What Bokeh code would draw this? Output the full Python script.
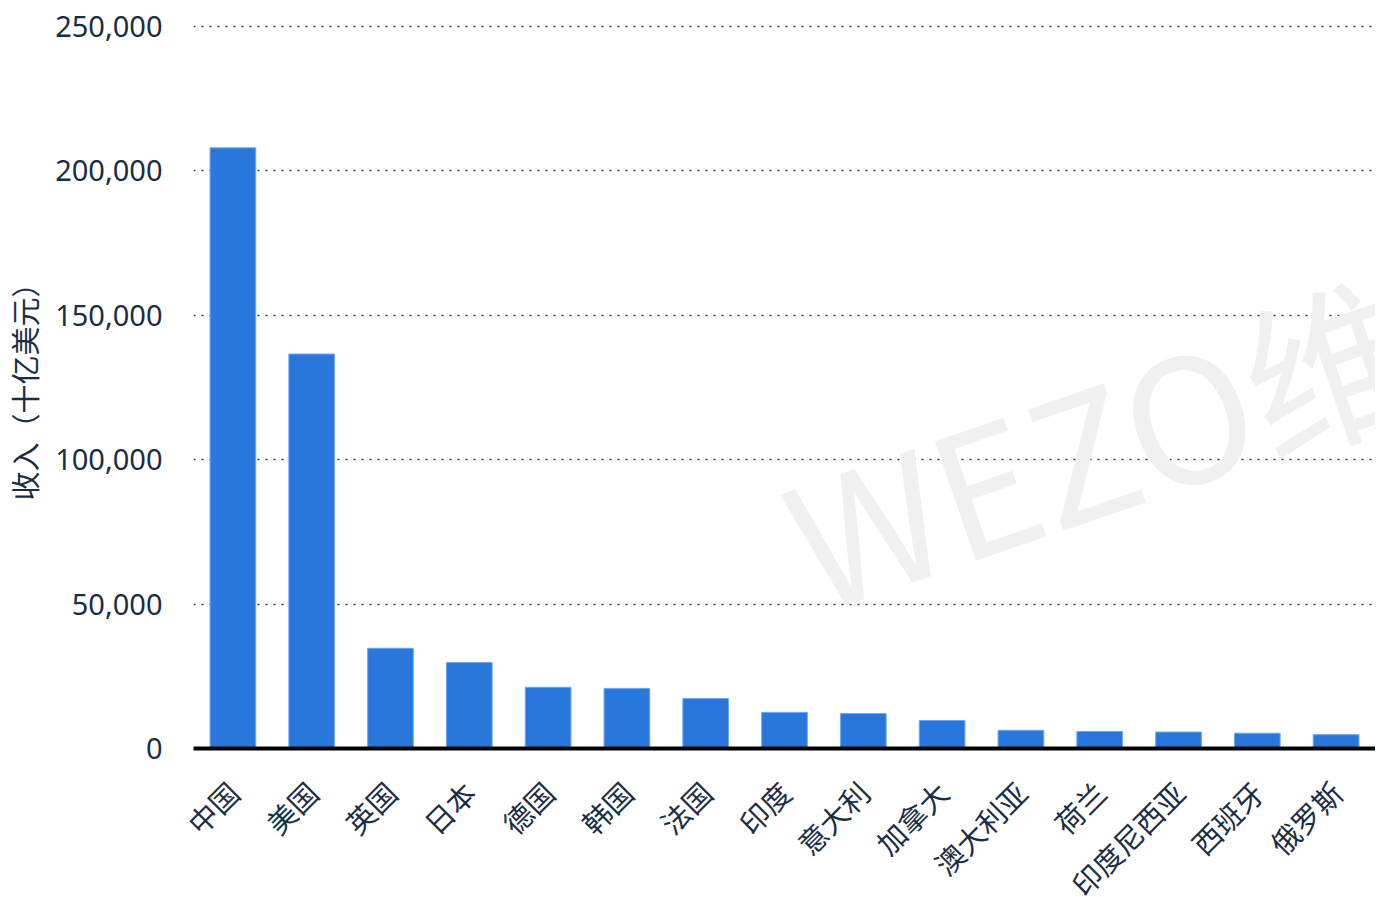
import math
from bokeh.plotting import figure
from bokeh.models import FactorRange, Range1d, NumeralTickFormatter, FixedTicker, Label
from bokeh.embed import file_html
from bokeh.resources import INLINE

countries = ["中国", "美国", "英国", "日本", "德国", "韩国", "法国", "印度", "意大利",
             "加拿大", "澳大利亚", "荷兰", "印度尼西亚", "西班牙", "俄罗斯"]
revenue = [208000, 136600, 34700, 29800, 21200, 20800, 17300, 12500, 12100,
           9700, 6300, 5900, 5700, 5300, 4800]
y_ticks = [0, 50000, 100000, 150000, 200000, 250000]
y_label = "收入（十亿美元）"
watermark = "WEZO维"

TXT = "#1b2d45"

p = figure(x_range=FactorRange(*countries), y_range=Range1d(0, 252100),
           width=1375, height=928,
           output_backend="svg", toolbar_location=None,
           min_border_left=190, min_border_right=0, min_border_top=20,
           min_border_bottom=180)
p.outline_line_color = None

p.vbar(x=countries, top=revenue, width=0.58, fill_color="#2a77dc",
       line_color="#6fa8ee", line_width=1)

wm = Label(x=7.6, y=70600, text=watermark, angle=19, angle_units="deg",
           text_font="Noto Sans CJK SC", text_font_size="172px",
           text_color="#f0f0f0", text_align="left", text_baseline="alphabetic",
           level="underlay")
p.add_layout(wm)

p.xgrid.grid_line_color = None
p.ygrid.grid_line_color = "#333333"
p.ygrid.grid_line_dash = "2 6"
p.ygrid.grid_line_width = 1.6
p.ygrid.ticker = FixedTicker(ticks=y_ticks)

ya = p.yaxis[0]
ya.ticker = FixedTicker(ticks=y_ticks)
ya.formatter = NumeralTickFormatter(format="0,0")
ya.axis_line_color = None
ya.major_tick_line_color = None
ya.minor_tick_line_color = None
ya.major_label_text_font = "Noto Sans"
ya.major_label_text_font_size = "29px"
ya.major_label_text_color = TXT
ya.major_label_standoff = 25
ya.axis_label = y_label
ya.axis_label_text_font = "Noto Sans CJK SC"
ya.axis_label_text_font_size = "29px"
ya.axis_label_text_font_style = "normal"
ya.axis_label_text_color = TXT
ya.axis_label_standoff = 7

xa = p.xaxis[0]
xa.axis_line_color = "black"
xa.axis_line_width = 4
xa.major_tick_line_color = None
xa.minor_tick_line_color = None
xa.major_label_orientation = math.pi / 4
xa.major_label_text_font = "Noto Sans CJK SC"
xa.major_label_text_font_size = "29px"
xa.major_label_text_color = TXT
xa.major_label_standoff = 32

open("out.html", "w").write(file_html(p, INLINE))
